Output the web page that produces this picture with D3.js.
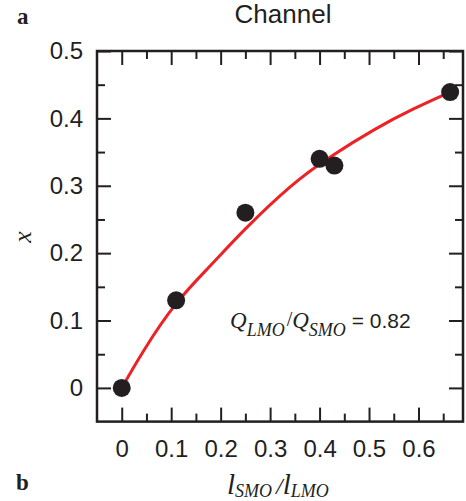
<!DOCTYPE html>
<html>
<head>
<meta charset="utf-8">
<script src="https://cdn.jsdelivr.net/npm/d3@7"></script>
<style>
  html, body { margin: 0; padding: 0; background: #fff; }
  svg { display: block; }
</style>
</head>
<body>
<svg id="chart" width="466" height="501"></svg>
<script>
// ---- data ----
const ptX = [0, 0.11, 0.25, 0.40, 0.43, 0.664];
const ptY = [0, 0.13, 0.26, 0.34, 0.33, 0.439];
const curveX = [0, 0.045, 0.11, 0.18, 0.25, 0.34, 0.42, 0.51, 0.59, 0.664];
const curveY = [0, 0.056, 0.125, 0.182, 0.236, 0.298, 0.342, 0.383, 0.414, 0.439];
const xTicks = [0, 0.1, 0.2, 0.3, 0.4, 0.5, 0.6];
const xMinorTicks = [0.05, 0.15, 0.25, 0.35, 0.45, 0.55, 0.65];
const yTicks = [0, 0.1, 0.2, 0.3, 0.4, 0.5];
const yMinorTicks = [0.05, 0.15, 0.25, 0.35, 0.45];
const xTickLabels = ["0", "0.1", "0.2", "0.3", "0.4", "0.5", "0.6"];
const yTickLabels = ["0", "0.1", "0.2", "0.3", "0.4", "0.5"];
const title = "Channel";
const ratioValue = "0.82";

// ---- layout ----
const L = 97, R = 463, T = 51, B = 421.6;
const x = d3.scaleLinear().domain([-0.05, 0.69]).range([L, R]);
const y = d3.scaleLinear().domain([-0.05, 0.5]).range([B, T]);
const ink = "#231f20";
const sans = "'Liberation Sans', Arial, Helvetica, sans-serif";
const serif = "'Liberation Serif', 'Times New Roman', serif";

const svg = d3.select("#chart");

function styleAxis(g, width) {
  g.select(".domain").remove();
  g.selectAll(".tick line").attr("stroke", ink).attr("stroke-width", width);
  g.selectAll(".tick text").attr("fill", ink).attr("font-family", sans).attr("font-size", 24);
}

// major axes
svg.append("g").attr("transform", `translate(${L},0)`)
  .call(d3.axisLeft(y).tickValues(yTicks).tickSize(-14).tickPadding(14)
    .tickFormat((d, i) => yTickLabels[i]))
  .call(g => styleAxis(g, 2));
svg.append("g").attr("transform", `translate(${R},0)`)
  .call(d3.axisRight(y).tickValues(yTicks).tickSize(-14).tickFormat(""))
  .call(g => styleAxis(g, 2));
svg.append("g").attr("transform", `translate(0,${B})`)
  .call(d3.axisBottom(x).tickValues(xTicks).tickSize(-14).tickPadding(18)
    .tickFormat((d, i) => xTickLabels[i]))
  .call(g => styleAxis(g, 2));
svg.append("g").attr("transform", `translate(0,${T})`)
  .call(d3.axisTop(x).tickValues(xTicks).tickSize(-14).tickFormat(""))
  .call(g => styleAxis(g, 2));

// minor ticks
svg.append("g").attr("transform", `translate(${L},0)`)
  .call(d3.axisLeft(y).tickValues(yMinorTicks).tickSize(-8).tickFormat(""))
  .call(g => styleAxis(g, 2));
svg.append("g").attr("transform", `translate(${R},0)`)
  .call(d3.axisRight(y).tickValues(yMinorTicks).tickSize(-8).tickFormat(""))
  .call(g => styleAxis(g, 2));
svg.append("g").attr("transform", `translate(0,${B})`)
  .call(d3.axisBottom(x).tickValues(xMinorTicks).tickSize(-8).tickFormat(""))
  .call(g => styleAxis(g, 2));
svg.append("g").attr("transform", `translate(0,${T})`)
  .call(d3.axisTop(x).tickValues(xMinorTicks).tickSize(-8).tickFormat(""))
  .call(g => styleAxis(g, 2));

// frame
svg.append("rect")
  .attr("x", L).attr("y", T).attr("width", R - L).attr("height", B - T)
  .attr("fill", "none").attr("stroke", ink).attr("stroke-width", 2.5);

// fit curve
const line = d3.line().x(d => x(d[0])).y(d => y(d[1])).curve(d3.curveNatural);
svg.append("path")
  .datum(curveX.map((v, i) => [v, curveY[i]]))
  .attr("d", line)
  .attr("fill", "none").attr("stroke", "#ec2227").attr("stroke-width", 3);

// points
svg.append("g").selectAll("circle")
  .data(ptX.map((v, i) => [v, ptY[i]]))
  .join("circle")
  .attr("cx", d => x(d[0])).attr("cy", d => y(d[1])).attr("r", 9)
  .attr("fill", ink);

// title
svg.append("text").attr("x", 283).attr("y", 23).attr("text-anchor", "middle")
  .attr("font-family", sans).attr("font-size", 26).attr("fill", ink).text(title);

// panel letters
svg.append("text").attr("x", 17).attr("y", 24)
  .attr("font-family", serif).attr("font-weight", "bold").attr("font-size", 23)
  .attr("fill", ink).text("a");
svg.append("text").attr("x", 16).attr("y", 490)
  .attr("font-family", serif).attr("font-weight", "bold").attr("font-size", 23)
  .attr("fill", ink).text("b");

// y label
svg.append("text")
  .attr("transform", "translate(31,237) rotate(-90)")
  .attr("text-anchor", "middle")
  .attr("font-family", serif).attr("font-style", "italic").attr("font-size", 26)
  .attr("fill", ink).text("x");

// x label
const xl = svg.append("text").attr("x", 227).attr("y", 494)
  .attr("font-family", serif).attr("font-style", "italic").attr("fill", ink);
xl.append("tspan").attr("font-size", 29).text("l");
xl.append("tspan").attr("font-size", 18).attr("dy", 3).text("SMO");
xl.append("tspan").attr("font-size", 24).attr("dy", -3).attr("dx", 4).text("/");
xl.append("tspan").attr("font-size", 29).text("l");
xl.append("tspan").attr("font-size", 18).attr("dy", 3).text("LMO");

// annotation
const an = svg.append("text").attr("x", 230).attr("y", 328)
  .attr("font-family", serif).attr("fill", ink);
an.append("tspan").attr("font-style", "italic").attr("font-size", 23).text("Q");
an.append("tspan").attr("font-style", "italic").attr("font-size", 18).attr("dy", 8).text("LMO");
an.append("tspan").attr("font-size", 20).attr("dy", -10).attr("dx", 2).text("/");
an.append("tspan").attr("font-style", "italic").attr("font-size", 23).attr("dy", 2).text("Q");
an.append("tspan").attr("font-style", "italic").attr("font-size", 18).attr("dy", 8).text("SMO");
an.append("tspan").attr("font-family", sans).attr("font-size", 21).attr("dy", -8).text(" = " + ratioValue);
</script>
</body>
</html>
